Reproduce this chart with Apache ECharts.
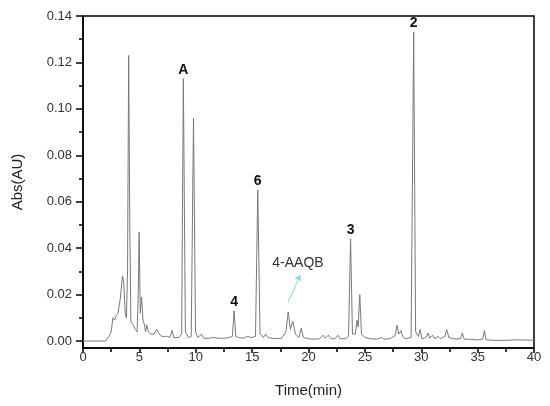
<!DOCTYPE html>
<html>
<head>
<meta charset="utf-8">
<script src="https://cdn.jsdelivr.net/npm/echarts@6/dist/echarts.min.js"></script>
<style>html,body{margin:0;padding:0;background:#fff}#c{width:550px;height:406px}</style>
</head>
<body>
<div id="c"></div>
<script>
var times = [0,2.0,2.3,2.5,2.65,2.8,2.95,3.1,3.3,3.5,3.6,3.75,3.85,3.95,4.05,4.15,4.25,4.45,4.65,4.8,4.9,4.98,5.08,5.2,5.32,5.45,5.55,5.65,5.8,6.0,6.3,6.55,6.75,7.0,7.3,7.5,7.7,7.9,8.05,8.5,8.75,8.9,9.08,9.35,9.6,9.8,9.98,10.2,10.5,10.7,11.2,11.5,12.0,12.5,13.0,13.25,13.4,13.55,13.8,14.2,14.6,14.9,15.3,15.5,15.7,16.0,16.2,16.4,17.0,17.6,18.0,18.2,18.4,18.6,18.85,19.15,19.35,19.55,20.0,20.5,21.0,21.3,21.5,21.75,22.0,22.35,22.6,22.8,23.3,23.55,23.73,23.9,24.15,24.3,24.4,24.55,24.7,25.0,25.5,26.0,26.5,26.7,27.2,27.5,27.7,27.85,28.0,28.2,28.35,28.6,29.1,29.33,29.5,29.75,29.9,30.05,30.4,30.6,30.75,31.0,31.2,31.5,31.7,32.1,32.25,32.45,32.9,33.2,33.5,33.65,33.8,34.2,35.0,35.45,35.6,35.75,36.5,37.5,38.5,39.5,40];
var absorbance = [0,0,0.002,0.004,0.010,0.009,0.011,0.012,0.018,0.028,0.026,0.012,0.010,0.03,0.123,0.05,0.008,0.007,0.005,0.004,0.02,0.047,0.012,0.019,0.009,0.007,0.004,0.007,0.004,0.003,0.003,0.005,0.003,0.002,0.002,0.002,0.0015,0.0045,0.0015,0.0015,0.003,0.113,0.004,0.0015,0.002,0.096,0.004,0.0015,0.003,0.0012,0.0012,0.0015,0.0012,0.0012,0.0015,0.002,0.013,0.002,0.0015,0.0012,0.002,0.0015,0.002,0.065,0.003,0.0015,0.003,0.0015,0.001,0.0012,0.004,0.0125,0.005,0.0085,0.003,0.0015,0.0055,0.0015,0.001,0.0008,0.001,0.0025,0.0012,0.0025,0.001,0.001,0.0025,0.001,0.001,0.002,0.044,0.003,0.003,0.009,0.006,0.02,0.003,0.0015,0.001,0.0008,0.0015,0.0008,0.001,0.0018,0.0025,0.0068,0.003,0.0045,0.002,0.001,0.0015,0.133,0.004,0.002,0.005,0.001,0.0015,0.0035,0.0012,0.0025,0.001,0.002,0.001,0.002,0.005,0.0015,0.001,0.0008,0.0012,0.0035,0.0008,0.0008,0.0005,0.0008,0.0045,0.0005,0.0003,0.0003,0.0005,0.0004,0.0003];

var peakLabels = ['A','6','4','3','2'];
var peakTimes = [8.9,15.5,13.4,23.73,29.33];
var peakValues = [0.113,0.065,0.013,0.044,0.133];

var noteText = '4-AAQB';
var noteCoord = [19.07,0.0336];
var arrowFrom = [18.2,0.0168];
var arrowTo = [19.26,0.0284];

var yMajorTicks = [0,0.02,0.04,0.06,0.08,0.10,0.12,0.14];
var yMinorTicks = [0.01,0.03,0.05,0.07,0.09,0.11,0.13];
var yMin = -0.003, yMax = 0.14;
var xMin = 0, xMax = 40, xStep = 5;

var chart = echarts.init(document.getElementById('c'));
var data = times.map(function(t,i){return [t,absorbance[i]];});
var FONT = 'Liberation Sans, Arial, sans-serif';

chart.setOption({
  animation:false,
  backgroundColor:'#fff',
  grid:{left:83,right:16,top:16,bottom:58,show:true,borderColor:'#000',borderWidth:1.5,backgroundColor:'transparent'},
  xAxis:{
    type:'value',min:xMin,max:xMax,interval:xStep,
    name:'Time(min)',nameLocation:'middle',nameGap:35,
    nameTextStyle:{fontFamily:FONT,fontSize:15,color:'#222'},
    axisLine:{show:true,onZero:false,lineStyle:{color:'#000',width:1.5}},
    axisTick:{show:true,inside:false,length:5,lineStyle:{color:'#000',width:1.5}},
    minorTick:{show:true,splitNumber:2,length:4,lineStyle:{color:'#000',width:1.5}},
    axisLabel:{fontFamily:FONT,fontSize:13,color:'#333',margin:3},
    splitLine:{show:false}
  },
  yAxis:[{
    type:'value',min:yMin,max:yMax,position:'left',
    name:'Abs(AU)',nameLocation:'middle',nameGap:58,nameRotate:90,
    nameTextStyle:{fontFamily:FONT,fontSize:15,color:'#222'},
    axisLine:{show:true,lineStyle:{color:'#000',width:1.5}},
    axisTick:{show:true,inside:false,length:7,customValues:yMajorTicks,lineStyle:{color:'#000',width:1.5}},
    axisLabel:{fontFamily:FONT,fontSize:13,color:'#333',margin:11,customValues:yMajorTicks,formatter:function(v){return v.toFixed(2);}},
    splitLine:{show:false}
  },{
    type:'value',min:yMin,max:yMax,position:'left',
    axisLine:{show:false},
    axisTick:{show:true,inside:false,length:4,customValues:yMinorTicks,lineStyle:{color:'#000',width:1.5}},
    axisLabel:{show:false},
    splitLine:{show:false}
  }],
  series:[{
    type:'line',data:data,yAxisIndex:0,showSymbol:false,symbol:'none',
    lineStyle:{color:'#7a7a7a',width:1},
    markPoint:{
      symbol:'circle',symbolSize:0,silent:true,
      data:peakLabels.map(function(n,i){
        return {coord:[peakTimes[i],peakValues[i]],label:{show:true,position:'top',distance:2,formatter:n,fontFamily:FONT,fontWeight:'bold',fontSize:14,color:'#111'}};
      }).concat([{coord:noteCoord,label:{show:true,position:'inside',formatter:noteText,fontFamily:FONT,fontSize:14,color:'#333'}}])
    },
    markLine:{
      silent:true,symbol:['none','arrow'],symbolSize:6,
      lineStyle:{color:'#8fd3df',width:1,type:'solid'},
      label:{show:false},
      data:[[{coord:arrowFrom},{coord:arrowTo}]]
    }
  }]
});
</script>
</body>
</html>
